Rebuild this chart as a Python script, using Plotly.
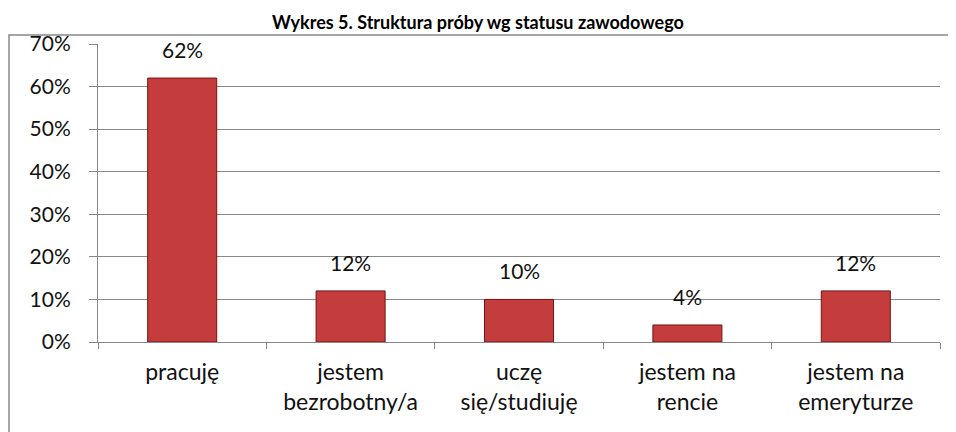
import plotly.graph_objects as go

categories = ["pracuję", "jestem<br>bezrobotny/a", "uczę<br>się/studiuję", "jestem na<br>rencie", "jestem na<br>emeryturze"]
values = [0.62, 0.12, 0.10, 0.04, 0.12]
labels = ["62%", "12%", "10%", "4%", "12%"]
y_ticks = [0, 0.1, 0.2, 0.3, 0.4, 0.5, 0.6, 0.7]
y_ticktext = ["0%", "10%", "20%", "30%", "40%", "50%", "60%", "70%"]
title = "Wykres 5. Struktura próby wg statusu zawodowego"

FONT = "Lato"
W, H = 956, 432
OFF = 8  # page offset of the figure inside the browser window
# desired page pixels: plot left 98, top 44, right 940, bottom 342
L, T = 98 - OFF, 44 - OFF
R = W - (940 - OFF)
B = H - (342 - OFF)
pw, ph = W - L - R, H - T - B


def px_x(page_x):
    return (page_x - OFF - L) / pw


def px_y(page_y):
    return 1 - (page_y - OFF - T) / ph


fig = go.Figure()
fig.add_trace(go.Bar(
    x=categories, y=values,
    marker=dict(color="#C43C3C", line=dict(color="#761414", width=1)),
    width=0.41,
    hoverinfo="skip",
))

for c, v, t in zip(categories, values, labels):
    fig.add_annotation(x=c, y=v, text=t, showarrow=False, yanchor="bottom",
                       yshift=14, font=dict(size=21, color="#111111", family=FONT))

fig.add_annotation(xref="paper", yref="paper", x=px_x(478), y=px_y(9),
                   yanchor="top", showarrow=False,
                   text="<b>" + title + "</b>", font=dict(size=18, color="#000000", family=FONT))

fig.add_shape(type="rect", xref="paper", yref="paper",
              x0=px_x(9), x1=px_x(W + 20),
              y0=px_y(H + 20), y1=px_y(35),
              line=dict(color="#888888", width=1.5), fillcolor="rgba(0,0,0,0)", layer="above")

fig.update_layout(
    width=W, height=H,
    margin=dict(l=L, r=R, t=T, b=B, pad=0),
    paper_bgcolor="white", plot_bgcolor="white",
    showlegend=False,
    font=dict(family=FONT, size=21, color="#111111"),
    xaxis=dict(
        type="category", tickson="boundaries", ticks="outside", ticklen=6,
        tickcolor="#888888", showline=True, linecolor="#888888", linewidth=1,
        showgrid=False, tickfont=dict(size=23, color="#111111", family=FONT),
        ticklabelstandoff=9,
    ),
    yaxis=dict(
        range=[0, 0.7], tickvals=y_ticks, ticktext=y_ticktext,
        ticks="outside", ticklen=8, tickcolor="#888888",
        showline=True, linecolor="#888888", linewidth=1,
        showgrid=True, gridcolor="#888888", gridwidth=1, zeroline=False,
        tickfont=dict(size=21, color="#111111", family=FONT),
        ticklabelstandoff=14,
    ),
)

fig.write_html("out.html")
